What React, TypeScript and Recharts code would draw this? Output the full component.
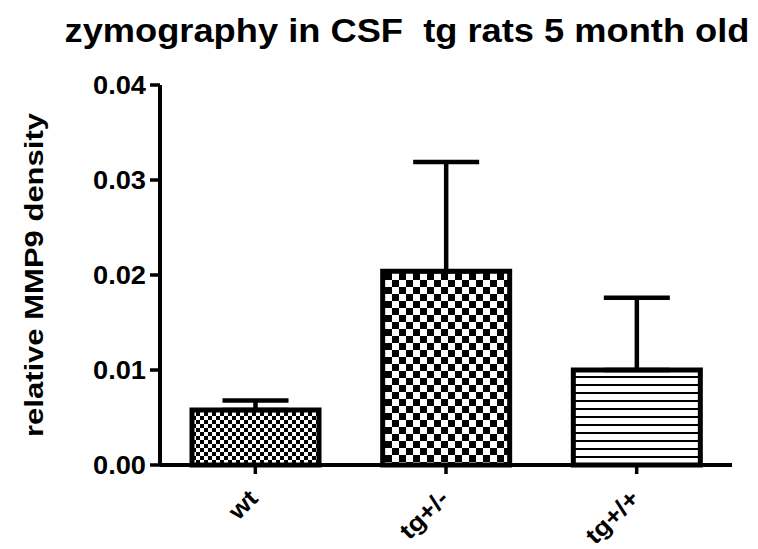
import { BarChart, Bar, XAxis, YAxis, Cell, ErrorBar } from "recharts";

const categories = ["wt", "tg+/-", "tg+/+"];
const means = [0.0058, 0.0204, 0.01];
const upperErrors = [0.001, 0.0115, 0.0076];
const patternIds = ["checkFine", "checkCoarse", "hLines"];
const yTicks = [0, 0.01, 0.02, 0.03, 0.04];

const FONT = "'Liberation Sans', Arial, Helvetica, sans-serif";

const data = categories.map((group, i) => ({
  group,
  mean: means[i],
  err: [0, upperErrors[i]],
}));

function YTick({ x, y, payload }: { x?: number; y?: number; payload?: { value: number } }) {
  return (
    <text
      x={x}
      y={y}
      textAnchor="end"
      dominantBaseline="central"
      fontFamily={FONT}
      fontWeight="bold"
      fontSize={25}
      textLength={53}
      lengthAdjust="spacingAndGlyphs"
      fill="#000"
    >
      {payload ? payload.value.toFixed(2) : ""}
    </text>
  );
}

function XTick({ x, y, payload }: { x?: number; y?: number; payload?: { value: string } }) {
  return (
    <g transform={`translate(${(x ?? 0) + 4},${(y ?? 0) + 24})`}>
      <text
        transform="rotate(-45) scale(1.12,1)"
        textAnchor="end"
        fontFamily={FONT}
        fontWeight="bold"
        fontSize={24}
        fill="#000"
      >
        {payload?.value}
      </text>
    </g>
  );
}

export default function App() {
  return (
    <div style={{ position: "absolute", left: 0, top: 0, width: 758, height: 549, background: "#fff" }}>
      <BarChart width={758} height={549} data={data} margin={{ top: 85, right: 26, bottom: 0, left: 90 }}>
        <defs>
          <pattern id="checkFine" patternUnits="userSpaceOnUse" width={8} height={8}>
            <rect width={8} height={8} fill="#fff" />
            <rect x={0} y={0} width={4} height={4} fill="#000" />
            <rect x={4} y={4} width={4} height={4} fill="#000" />
          </pattern>
          <pattern id="checkCoarse" patternUnits="userSpaceOnUse" width={14} height={14}>
            <rect width={14} height={14} fill="#fff" />
            <rect x={0} y={0} width={7} height={7} fill="#000" />
            <rect x={7} y={7} width={7} height={7} fill="#000" />
          </pattern>
          <pattern id="hLines" patternUnits="userSpaceOnUse" width={8} height={8}>
            <rect width={8} height={8} fill="#fff" />
            <rect x={0} y={0} width={8} height={2} fill="#000" />
          </pattern>
        </defs>
        <XAxis
          dataKey="group"
          height={84}
          axisLine={{ stroke: "#000", strokeWidth: 4 }}
          tickLine={{ stroke: "#000", strokeWidth: 3.5 }}
          tickSize={9}
          tick={<XTick />}
          interval={0}
        />
        <YAxis
          width={70}
          domain={[0, 0.04]}
          ticks={yTicks}
          axisLine={{ stroke: "#000", strokeWidth: 4 }}
          tickLine={{ stroke: "#000", strokeWidth: 3.5 }}
          tickSize={10}
          tickMargin={4}
          tick={<YTick />}
        />
        <Bar dataKey="mean" barSize={127} stroke="#000" strokeWidth={5} isAnimationActive={false}>
          {data.map((d, i) => (
            <Cell key={d.group} fill={`url(#${patternIds[i]})`} />
          ))}
          <ErrorBar dataKey="err" width={33} stroke="#000" strokeWidth={4.5} direction="y" isAnimationActive={false} />
        </Bar>
      </BarChart>
      <svg width={758} height={549} style={{ position: "absolute", left: 0, top: 0, pointerEvents: "none" }}>
        <text
          x={407}
          y={42}
          textAnchor="middle"
          fontFamily={FONT}
          fontWeight="bold"
          fontSize={33}
          textLength={685}
          lengthAdjust="spacingAndGlyphs"
          style={{ whiteSpace: "pre" }}
          fill="#000"
        >
          zymography in CSF  tg rats 5 month old
        </text>
        <text
          x={43}
          y={275}
          transform="rotate(-90, 43, 275)"
          textAnchor="middle"
          fontFamily={FONT}
          fontWeight="bold"
          fontSize={26}
          textLength={324}
          lengthAdjust="spacingAndGlyphs"
          fill="#000"
        >
          relative MMP9 density
        </text>
      </svg>
    </div>
  );
}
